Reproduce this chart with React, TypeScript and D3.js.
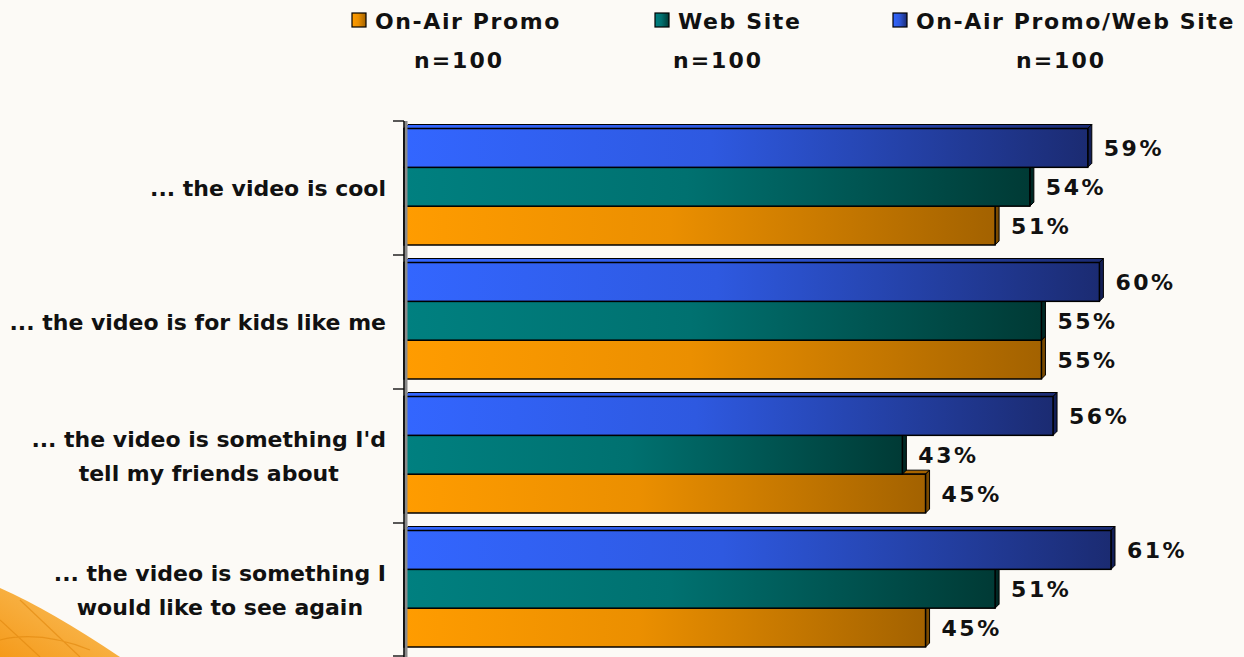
import React from "react";
import * as d3 from "d3";

const categoryLines: string[][] = [
  ["... the video is cool"],
  ["... the video is for kids like me"],
  ["... the video is something I'd", "tell my friends about"],
  ["... the video is something I", "would like to see again"],
];
const seriesNames = ["On-Air Promo", "Web Site", "On-Air Promo/Web Site"];
const seriesN = ["n=100", "n=100", "n=100"];
const onAirPromo = [51, 55, 45, 45];
const webSite = [54, 55, 43, 51];
const onAirWeb = [59, 60, 56, 61];

const W = 1244;
const H = 657;
const FONT = "'DejaVu Sans', Verdana, sans-serif";

const colorsLeft = ["#ff9c00", "#008080", "#3366ff"];
const colorsRight = ["#a36200", "#003a35", "#1b2b72"];
const sideColors = ["#7a4a00", "#002824", "#121e55"];

function measure(text: string, font: string): number {
  if (typeof document === "undefined") return text.length * 12;
  const c = document.createElement("canvas");
  const ctx = c.getContext("2d");
  if (!ctx) return text.length * 12;
  ctx.font = font;
  return ctx.measureText(text).width;
}

export default function App() {
  const values = [onAirPromo, webSite, onAirWeb];
  const plotTop = 121;
  const plotBottom = 657;
  const axisX = 404;
  const depth = 4;

  const x = d3.scaleLinear().domain([0, 70]).range([axisX, axisX + 70 * 11.59]);
  const y = d3
    .scaleBand<number>()
    .domain(d3.range(categoryLines.length))
    .range([plotTop, plotBottom])
    .padding(0);
  const yInner = d3
    .scaleBand<number>()
    .domain([2, 1, 0])
    .range([7.5, 124])
    .padding(0);

  const labelRight = 386;
  const catFont = `bold 22px ${FONT}`;

  const legendSquareX = [352, 655, 893];
  const legendNCenter = [459, 718, 1061];

  return (
    <svg
      width={W}
      height={H}
      style={{ position: "absolute", left: 0, top: 0, display: "block" }}
      fontFamily={FONT}
    >
      <defs>
        {colorsLeft.map((c, i) => (
          <linearGradient key={i} id={`g${i}`} x1="0" y1="0" x2="1" y2="0">
            <stop offset="0" stopColor={c} />
            <stop offset="0.45" stopColor={d3.interpolateRgb(c, colorsRight[i])(0.22)} />
            <stop offset="1" stopColor={colorsRight[i]} />
          </linearGradient>
        ))}
        <linearGradient id="bgOrange" x1="0" y1="1" x2="1" y2="0">
          <stop offset="0" stopColor="#f59a1a" />
          <stop offset="0.6" stopColor="#f8b347" />
          <stop offset="1" stopColor="#fbd9a0" stopOpacity="0.3" />
        </linearGradient>
      </defs>
      <rect x={0} y={0} width={W} height={H} fill="#fcfaf6" />
      {/* bottom-left orange swoosh */}
      <path d="M0,588 Q50,610 120,657 L0,657 Z" fill="url(#bgOrange)" />
      <path d="M0,620 L40,657 M20,600 L80,657 M0,640 Q40,630 90,650" stroke="#e0860c" strokeWidth={1.2} fill="none" opacity={0.6} />

      {/* Legend */}
      {seriesNames.map((name, i) => (
        <g key={name}>
          <rect
            x={legendSquareX[i]}
            y={13}
            width={14}
            height={14}
            fill={`url(#g${i})`}
            stroke="#000"
            strokeWidth={1.2}
          />
          <text
            x={legendSquareX[i] + 23}
            y={29}
            fontSize={22}
            fontWeight="bold"
            letterSpacing={1.6}
            fill="#111"
          >
            {name}
          </text>
          <text
            x={legendNCenter[i]}
            y={68}
            fontSize={22}
            fontWeight="bold"
            letterSpacing={2}
            textAnchor="middle"
            fill="#111"
          >
            {seriesN[i]}
          </text>
        </g>
      ))}

      {/* Bars */}
      {categoryLines.map((_, ci) => {
        const band = y(ci)!;
        return (
          <g key={ci}>
            {[0, 1, 2].map((si) => {
              const v = values[si][ci];
              const top = band + yInner(si)!;
              const h = yInner.bandwidth();
              const x0 = x(0);
              const x1 = x(v);
              const topFace = `M${x0},${top} L${x0 + depth},${top - depth} L${x1 + depth},${top - depth} L${x1},${top} Z`;
              const sideFace = `M${x1},${top} L${x1 + depth},${top - depth} L${x1 + depth},${top + h - depth} L${x1},${top + h} Z`;
              return (
                <g key={si}>
                  <path d={topFace} fill={`url(#g${si})`} stroke="#000" strokeWidth={1} />
                  <path d={sideFace} fill={sideColors[si]} stroke="#000" strokeWidth={1} />
                  <rect
                    x={x0}
                    y={top}
                    width={x1 - x0}
                    height={h}
                    fill={`url(#g${si})`}
                    stroke="#000"
                    strokeWidth={1.5}
                  />
                </g>
              );
            })}
            {[0, 1, 2].map((si) => {
              const v = values[si][ci];
              const top = band + yInner(si)!;
              const h = yInner.bandwidth();
              return (
                <text
                  key={`l${si}`}
                  x={x(v) + 16}
                  y={top + h / 2}
                  dy="0.36em"
                  fontSize={22}
                  fontWeight="bold"
                  letterSpacing={2.5}
                  fill="#111"
                >
                  {`${v}%`}
                </text>
              );
            })}
          </g>
        );
      })}

      {/* Axis */}
      <rect x={axisX + 0.5} y={plotTop} width={3} height={plotBottom - plotTop} fill="#8a8a8a" />
      <line x1={axisX} y1={plotTop} x2={axisX} y2={plotBottom} stroke="#000" strokeWidth={1.5} />
      {d3.range(categoryLines.length + 1).map((i) => {
        const yy = i < categoryLines.length ? y(i)! : plotBottom - 1;
        return (
          <line key={i} x1={axisX - 11} y1={yy} x2={axisX} y2={yy} stroke="#000" strokeWidth={1.3} />
        );
      })}

      {/* Category labels */}
      {categoryLines.map((lines, ci) => {
        const maxW = d3.max(lines, (l) => measure(l, catFont)) || 0;
        const cx = labelRight - maxW / 2;
        const center = y(ci)! + y.bandwidth() / 2;
        const lh = 34;
        const start = center - ((lines.length - 1) * lh) / 2;
        return (
          <g key={ci}>
            {lines.map((l, li) => (
              <text
                key={li}
                x={cx}
                y={start + li * lh}
                dy="0.36em"
                textAnchor="middle"
                fontSize={22}
                fontWeight="bold"
                fill="#111"
              >
                {l}
              </text>
            ))}
          </g>
        );
      })}
    </svg>
  );
}
